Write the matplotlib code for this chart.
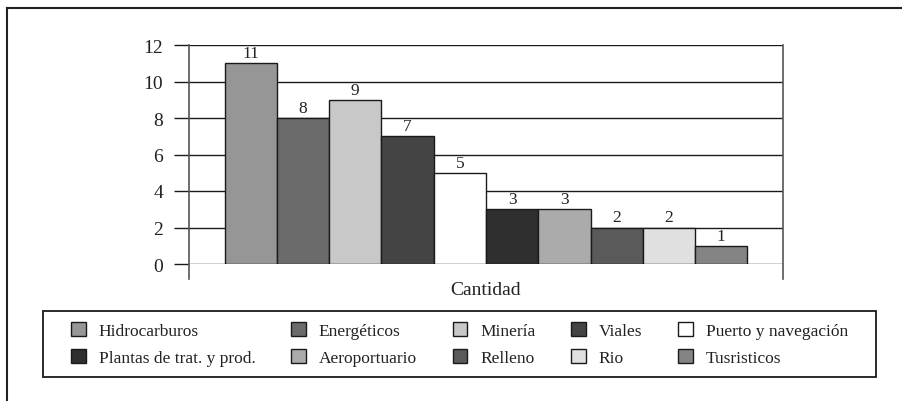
import matplotlib.pyplot as plt
from matplotlib.lines import Line2D
from matplotlib.patches import Patch, Rectangle

plt.rcParams['font.family'] = ['Liberation Serif', 'DejaVu Serif']

categorias = ['Hidrocarburos', 'Energéticos', 'Minería', 'Viales', 'Puerto y navegación',
              'Plantas de trat. y prod.', 'Aeroportuario', 'Relleno', 'Rio', 'Tusristicos']
cantidad = [11, 8, 9, 7, 5, 3, 3, 2, 2, 1]
colores = ['#969696', '#6b6b6b', '#c8c8c8', '#444444', '#ffffff',
           '#2f2f2f', '#ababab', '#5a5a5a', '#e0e0e0', '#848484']
yticks = [0, 2, 4, 6, 8, 10, 12]

fig = plt.figure(figsize=(9.03, 4.02), dpi=100)
ax = fig.add_axes([189/903, 1-265/402, 594/903, 219/402])

for i, (v, c) in enumerate(zip(cantidad, colores)):
    ax.bar(i, v, width=1, align='edge', color=c, edgecolor='#1a1a1a', linewidth=1, zorder=3)
    ax.text(i + 0.5, v + 0.12, str(v), ha='center', va='bottom', fontsize=12.5, color='#222222', zorder=4)

ax.set_xlim(-0.68, 10.68)
ax.set_ylim(0, 12)
ax.set_yticks(yticks)
ax.tick_params(axis='y', length=10.8, width=1, color='#1a1a1a', pad=8, labelsize=14, labelcolor='#222222')
ax.yaxis.grid(True, color='#1a1a1a', linewidth=1, zorder=0)
ax.set_xticks([5])
ax.set_xticklabels(['Cantidad'], fontsize=14, color='#222222')
ax.tick_params(axis='x', length=0, pad=12)
for s in ax.spines.values():
    s.set_visible(False)
# ejes verticales que bajan del cero
for xs in (0, 1):
    ax.plot([xs, xs], [-15/219, 1], transform=ax.transAxes, color='#555555', lw=1.2, clip_on=False, zorder=5)

orden = [0, 5, 1, 6, 2, 7, 3, 8, 4, 9]
handles = [Patch(facecolor=colores[k], edgecolor='#1a1a1a', linewidth=1) for k in orden]
labels = [categorias[k] for k in orden]
leg = fig.legend(handles, labels, loc='center', bbox_to_anchor=(459.5/903, 1-345/402), ncol=5,
                 fontsize=12.5, frameon=False,
                 handlelength=0.85, handleheight=0.85, handletextpad=0.75, columnspacing=2.05,
                 borderpad=0.5, labelspacing=0.58)
for t in leg.get_texts():
    t.set_color('#222222')

# recuadro de la leyenda
fig.add_artist(Rectangle((43/903, 1-378/402), 833/903, 66/402, transform=fig.transFigure,
                         facecolor='none', edgecolor='#1a1a1a', lw=1.3))

# marco exterior
fig.add_artist(Line2D([7/903, 7/903], [0, 1-9/402], color='#222222', lw=1.5))
fig.add_artist(Line2D([7/903, 1], [1-9/402, 1-9/402], color='#222222', lw=1.5))

fig.savefig('out.png', dpi=100)
